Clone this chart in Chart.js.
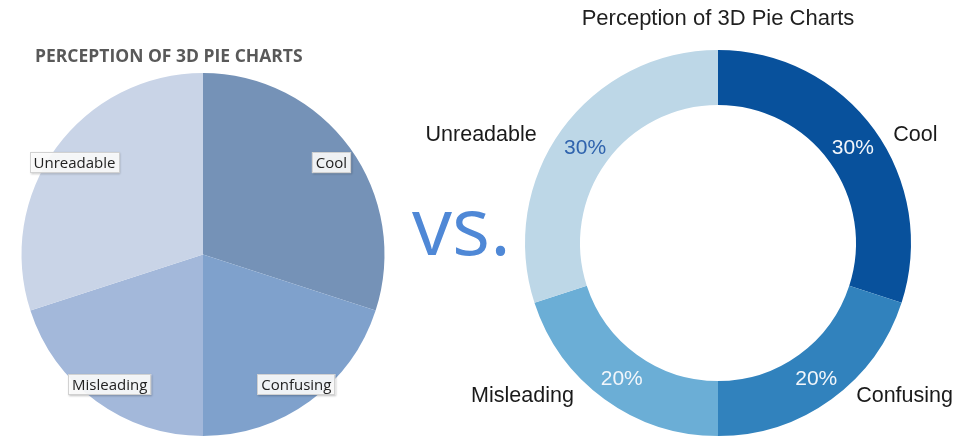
<!DOCTYPE html>
<html><head><meta charset="utf-8">
<script src="https://cdn.jsdelivr.net/npm/chart.js@4/dist/chart.umd.min.js"></script>
<style>
html,body{margin:0;padding:0;background:#fff;width:958px;height:436px;overflow:hidden;}
#leftBox{position:absolute;left:0;top:0;width:406px;height:436px;}
#rightBox{position:absolute;left:400px;top:0;width:558px;height:436px;}
#vs{position:absolute;left:412px;top:184px;font-family:"Open Sans";font-size:80px;line-height:80px;color:#4F88D6;z-index:5;white-space:nowrap;}
</style></head>
<body>
<div id="leftBox"><canvas id="left"></canvas></div>
<div id="rightBox"><canvas id="right"></canvas></div>
<div id="vs">vs.</div>
<script>
// ---- data ----
const categories = ['Cool', 'Confusing', 'Misleading', 'Unreadable'];
const leftValues = [30, 20, 20, 30];
const rightValues = [30, 20, 20, 30];
const leftTitle = 'PERCEPTION OF 3D PIE CHARTS';
const rightTitle = 'Perception of 3D Pie Charts';
const leftColors = ['#7592B7', '#7FA1CC', '#A3B8DA', '#C9D4E7'];
const rightColors = ['#08519C', '#3182BD', '#6BAED6', '#BDD7E7'];
const pctColors = ['#F2F6FB', '#F2F6FB', '#F2F6FB', '#2F63AD'];

const leftLabels = {
  id: 'leftLabels',
  afterDraw(chart) {
    const ctx = chart.ctx;
    const meta = chart.getDatasetMeta(0);
    ctx.save();
    ctx.font = 'bold 17.5px "Open Sans"';
    ctx.fillStyle = '#595959';
    ctx.textAlign = 'left';
    ctx.textBaseline = 'alphabetic';
    ctx.fillText(leftTitle, 35, 62);
    ctx.font = '15px "Open Sans"';
    meta.data.forEach((arc, i) => {
      const p = arc.getProps(['x', 'y', 'startAngle', 'endAngle', 'outerRadius'], true);
      const mid = (p.startAngle + p.endAngle) / 2;
      const r = p.outerRadius * 0.875;
      const x = p.x + Math.cos(mid) * r, y = p.y + Math.sin(mid) * r + 1.5;
      const txt = chart.data.labels[i];
      const w = ctx.measureText(txt).width + 8, h = 21;
      ctx.shadowColor = 'rgba(0,0,0,0.28)';
      ctx.shadowBlur = 2; ctx.shadowOffsetX = 1; ctx.shadowOffsetY = 1;
      ctx.fillStyle = 'rgba(255,255,255,0.9)';
      ctx.fillRect(x - w / 2, y - h / 2, w, h);
      ctx.shadowColor = 'transparent';
      ctx.strokeStyle = 'rgba(205,205,205,0.9)';
      ctx.lineWidth = 1;
      ctx.strokeRect(Math.round(x - w / 2) + 0.5, Math.round(y - h / 2) + 0.5, Math.round(w) - 1, h - 1);
      ctx.fillStyle = '#222';
      ctx.textAlign = 'center';
      ctx.textBaseline = 'middle';
      ctx.fillText(txt, x, y + 1);
    });
    ctx.restore();
  }
};

const rightLabels = {
  id: 'rightLabels',
  afterDraw(chart) {
    const ctx = chart.ctx;
    const meta = chart.getDatasetMeta(0);
    const values = chart.data.datasets[0].data;
    const total = values.reduce((a, b) => a + b, 0);
    ctx.save();
    ctx.textBaseline = 'middle';
    meta.data.forEach((arc, i) => {
      const p = arc.getProps(['x', 'y', 'startAngle', 'endAngle', 'outerRadius', 'innerRadius'], true);
      const mid = (p.startAngle + p.endAngle) / 2;
      const c = Math.cos(mid), s = Math.sin(mid);
      const rm = (p.outerRadius + p.innerRadius) / 2;
      ctx.font = '21px "Liberation Sans"';
      ctx.textAlign = 'center';
      ctx.fillStyle = pctColors[i];
      ctx.fillText(Math.round(values[i] / total * 100) + '%', p.x + c * rm + 1, p.y + s * rm + 2);
      const R = p.outerRadius;
      const lx = p.x + c * 0.87 * R + Math.sign(c) * 0.22 * R - 3;
      const ly = p.y + s * 0.97 * R + 2;
      ctx.font = '21.5px "Liberation Sans"';
      ctx.textAlign = c > 0 ? 'left' : 'right';
      ctx.fillStyle = '#1a1a1a';
      ctx.fillText(chart.data.labels[i], lx, ly);
    });
    ctx.restore();
  }
};

new Chart(document.getElementById('left'), {
  type: 'pie',
  data: { labels: categories, datasets: [{ data: leftValues, backgroundColor: leftColors, borderWidth: 0 }] },
  options: {
    responsive: true, maintainAspectRatio: false, animation: false, events: [],
    layout: { padding: { left: 21, right: 21, top: 73, bottom: 0 } },
    plugins: { legend: { display: false }, tooltip: { enabled: false }, title: { display: false } }
  },
  plugins: [leftLabels]
});

new Chart(document.getElementById('right'), {
  type: 'doughnut',
  data: { labels: categories, datasets: [{ data: rightValues, backgroundColor: rightColors, borderWidth: 0 }] },
  options: {
    responsive: true, maintainAspectRatio: false, animation: false, events: [],
    cutout: '71.5%',
    layout: { padding: { left: 125, right: 47, top: 0, bottom: 0 } },
    plugins: {
      legend: { display: false }, tooltip: { enabled: false },
      title: { display: true, text: rightTitle, color: '#1f1f1f',
        font: { family: '"Liberation Sans"', size: 22, weight: 'normal', lineHeight: 1.2 },
        padding: { top: 6, bottom: 17.6 } }
    }
  },
  plugins: [rightLabels]
});
</script>
</body></html>
